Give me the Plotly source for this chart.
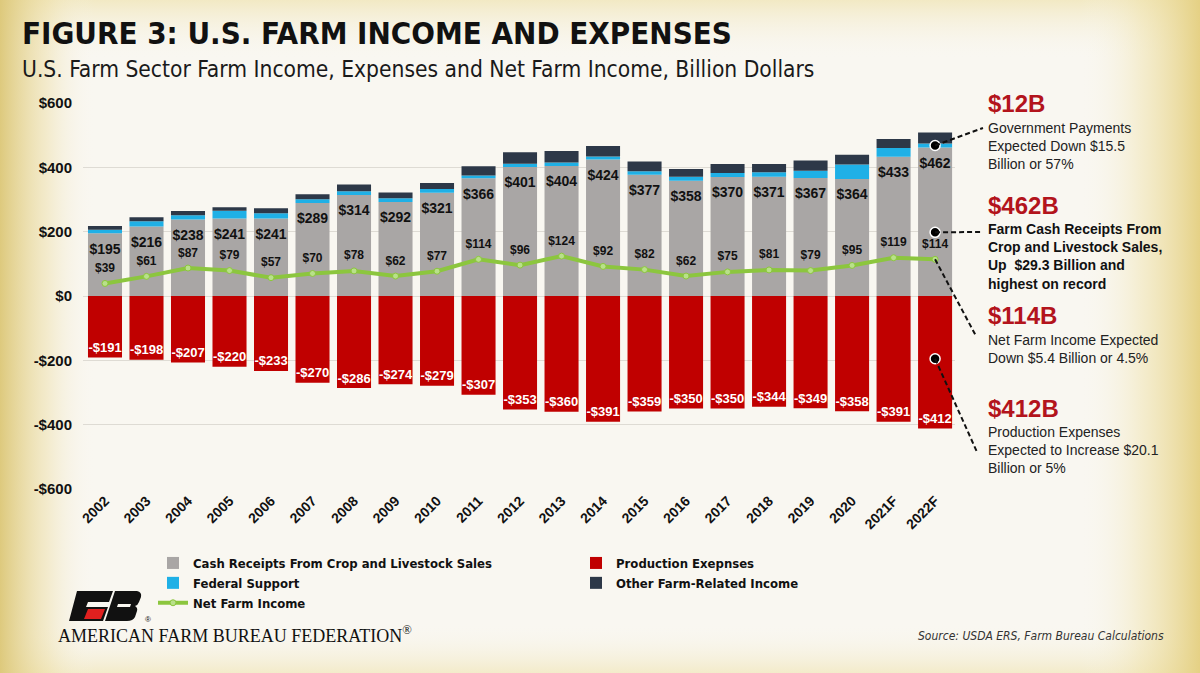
import base64
import plotly.graph_objects as go

# ---------------- data ----------------
years = ["2002", "2003", "2004", "2005", "2006", "2007", "2008", "2009", "2010", "2011",
         "2012", "2013", "2014", "2015", "2016", "2017", "2018", "2019", "2020", "2021F", "2022F"]
cash_receipts = [195, 216, 238, 241, 241, 289, 314, 292, 321, 366,
                 401, 404, 424, 377, 358, 370, 371, 367, 364, 433, 462]
federal_support = [11, 16, 13, 24, 16, 12, 12, 12, 12, 9,
                   10, 11, 10, 11, 13, 12, 14, 22, 45, 27, 12]
other_income = [12, 13, 13, 11, 16, 15, 21, 18, 18, 28,
                36, 36, 32, 30, 24, 28, 25, 32, 30, 28, 34]
production_expenses = [-191, -198, -207, -220, -233, -270, -286, -274, -279, -307,
                       -353, -360, -391, -359, -350, -350, -344, -349, -358, -391, -412]
net_farm_income = [39, 61, 87, 79, 57, 70, 78, 62, 77, 114,
                   96, 124, 92, 82, 62, 75, 81, 79, 95, 119, 114]

y_tick_vals = [600, 400, 200, 0, -200, -400, -600]
y_tick_text = ["$600", "$400", "$200", "$0", "-$200", "-$400", "-$600"]

callout_year = "2022F"
callout_values = [468, 198, -195]  # government payments, cash receipts, expenses markers

# ---------------- styling ----------------
W, H = 1200, 673
L, R, T, B = 83, 955, 103, 489
X_RANGE = [-0.53, 20.48]
Y_RANGE = [-600, 600]

GRAY = "#a9a6a5"
RED = "#c00000"
BLUE = "#1fb0e6"
NAVY = "#2d3848"
GREEN = "#8cc63e"
HEAD_RED = "#b3141c"
NARROW = "Liberation Sans Narrow, Arial Narrow, DejaVu Sans Condensed, Roboto Condensed, sans-serif"
ARIAL = "Liberation Sans, Arial, sans-serif"


def px(x):
    return (x - L) / (R - L)


def py(y):
    return (B - y) / (B - T)


def data_x_paper(cat):
    i = years.index(cat)
    return (i - X_RANGE[0]) / (X_RANGE[1] - X_RANGE[0])


def data_y_paper(v):
    return (v - Y_RANGE[0]) / (Y_RANGE[1] - Y_RANGE[0])


fig = go.Figure()

fig.add_trace(go.Bar(x=years, y=cash_receipts, name="Cash Receipts From Crop and Livestock Sales",
                     marker=dict(color=GRAY, line=dict(width=0)), hoverinfo="skip"))
fig.add_trace(go.Bar(x=years, y=production_expenses, name="Production Exepnses",
                     marker=dict(color=RED, line=dict(width=0)), hoverinfo="skip"))
fig.add_trace(go.Bar(x=years, y=federal_support, name="Federal Support",
                     marker=dict(color=BLUE, line=dict(width=0)), hoverinfo="skip"))
fig.add_trace(go.Bar(x=years, y=other_income, name="Other Farm-Related Income",
                     marker=dict(color=NAVY, line=dict(width=0)), hoverinfo="skip"))
fig.add_trace(go.Scatter(x=years, y=net_farm_income, name="Net Farm Income", mode="lines+markers",
                         line=dict(color=GREEN, width=4),
                         marker=dict(color="#b9e08a", size=6, line=dict(color=GREEN, width=1)),
                         hoverinfo="skip"))

# labels for cash receipts (below the top of the gray segment)
fig.add_trace(go.Scatter(x=years, y=cash_receipts, mode="markers+text",
                         text=[f"${v}" for v in cash_receipts], textposition="bottom center",
                         marker=dict(size=14, opacity=0),
                         textfont=dict(family=ARIAL, size=14, color="#111111", weight="bold"),
                         showlegend=False, hoverinfo="skip", cliponaxis=False))
# labels for net farm income
fig.add_trace(go.Scatter(x=years, y=net_farm_income, mode="markers+text",
                         text=[f"${v}" for v in net_farm_income], textposition="top center",
                         marker=dict(size=12, opacity=0),
                         textfont=dict(family=ARIAL, size=12, color="#111111", weight="bold"),
                         showlegend=False, hoverinfo="skip", cliponaxis=False))
# labels for production expenses
fig.add_trace(go.Scatter(x=years, y=production_expenses, mode="markers+text",
                         text=[f"-${abs(v)}" for v in production_expenses], textposition="top center",
                         marker=dict(size=2, opacity=0),
                         textfont=dict(family=ARIAL, size=13, color="#ffffff", weight="bold"),
                         showlegend=False, hoverinfo="skip", cliponaxis=False))
# callout dots
fig.add_trace(go.Scatter(x=[callout_year] * len(callout_values), y=callout_values, mode="markers",
                         marker=dict(color="#000000", size=10, line=dict(color="#ffffff", width=1.5)),
                         showlegend=False, hoverinfo="skip", cliponaxis=False))

# ---------------- background & logo (SVG image) ----------------
svg = f"""<svg xmlns='http://www.w3.org/2000/svg' width='{W}' height='{H}' viewBox='0 0 {W} {H}'>
<defs>
<linearGradient id='gl' x1='0' y1='0' x2='1' y2='0'>
<stop offset='0' stop-color='#dcc777' stop-opacity='0.95'/>
<stop offset='0.5' stop-color='#ecdca0' stop-opacity='0.45'/>
<stop offset='1' stop-color='#f9f7f1' stop-opacity='0'/>
</linearGradient>
<linearGradient id='gr' x1='1' y1='0' x2='0' y2='0'>
<stop offset='0' stop-color='#e4cf80' stop-opacity='0.95'/>
<stop offset='0.5' stop-color='#efe1a8' stop-opacity='0.45'/>
<stop offset='1' stop-color='#f9f7f1' stop-opacity='0'/>
</linearGradient>
<linearGradient id='gt' x1='0' y1='0' x2='0' y2='1'>
<stop offset='0' stop-color='#efe3b0' stop-opacity='0.7'/>
<stop offset='1' stop-color='#f9f7f1' stop-opacity='0'/>
</linearGradient>
<linearGradient id='gb' x1='0' y1='1' x2='0' y2='0'>
<stop offset='0' stop-color='#efe3b0' stop-opacity='0.6'/>
<stop offset='1' stop-color='#f9f7f1' stop-opacity='0'/>
</linearGradient>
</defs>
<rect width='{W}' height='{H}' fill='#f9f7f1'/>
<rect x='0' y='0' width='{W}' height='60' fill='url(#gt)'/>
<rect x='0' y='{H-50}' width='{W}' height='50' fill='url(#gb)'/>
<rect x='0' y='0' width='95' height='{H}' fill='url(#gl)'/>
<rect x='{W-120}' y='0' width='120' height='{H}' fill='url(#gr)'/>
<path d='M77,591 L113,591 L109,602 L88,602 L86,607 L108,607 L103,621 L69,621 Z' fill='#111111'/>
<path d='M88,609 L105,609 L101,619 L84,619 Z' fill='#e0201f'/>
<path d='M115,591 L137,591 Q142,592 141,597 L139,602 Q138,605 135,606 Q138,608 137,611 L135,617 Q133,621 127,621 L105,621 Z' fill='#111111'/>
<path d='M118,604 L131,604 L130,607 L117,607 Z' fill='#f9f7f1'/>
</svg>"""
svg_uri = "data:image/svg+xml;base64," + base64.b64encode(svg.encode()).decode()

fig.add_layout_image(dict(source=svg_uri, xref="paper", yref="paper",
                          x=px(0), y=py(0), sizex=px(W) - px(0), sizey=py(0) - py(H),
                          xanchor="left", yanchor="top", sizing="stretch", layer="below"))

# ---------------- annotations ----------------
ann = []


def add_text(x, y, text, size, color="#222222", family=ARIAL, weight="normal", style="normal",
             xanchor="left", yanchor="middle", align="left"):
    ann.append(dict(x=px(x), y=py(y), xref="paper", yref="paper", text=text, showarrow=False,
                    xanchor=xanchor, yanchor=yanchor, align=align,
                    font=dict(family=family, size=size, color=color, weight=weight, style=style)))


add_text(20, 33, "FIGURE 3: U.S. FARM INCOME AND EXPENSES", 31, color="#111111", family=NARROW, weight="bold")
add_text(20, 69, "U.S. Farm Sector Farm Income, Expenses and Net Farm Income, Billion Dollars", 22.6,
         color="#1a1a1a", family=NARROW)

add_text(986, 103, "$12B", 24, color=HEAD_RED, weight="bold")
add_text(986, 146, "Government Payments<br>Expected Down $15.5<br>Billion or 57%", 14)
add_text(986, 205, "$462B", 24, color=HEAD_RED, weight="bold")
add_text(986, 256, "Farm Cash Receipts From<br>Crop and Livestock Sales,<br>Up  $29.3 Billion and<br>highest on record",
         14, color="#111111", weight="bold")
add_text(986, 315, "$114B", 24, color=HEAD_RED, weight="bold")
add_text(986, 349, "Net Farm Income Expected<br>Down $5.4 Billion or 4.5%", 14)
add_text(986, 408, "$412B", 24, color=HEAD_RED, weight="bold")
add_text(986, 450, "Production Expenses<br>Expected to Increase $20.1<br>Billion or 5%", 14)

add_text(56, 634, "AMERICAN FARM BUREAU FEDERATION<sup>®</sup>", 18, color="#111111",
         family="Liberation Serif, DejaVu Serif, serif")
add_text(143, 619, "®", 8, color="#111111")
add_text(1166, 636, "Source: USDA ERS, Farm Bureau Calculations", 12, color="#333333",
         family=NARROW, style="italic", xanchor="right")

# ---------------- callout leader lines ----------------
shapes = []
xc = data_x_paper(callout_year)
leader_ends = [(callout_values[0], 983, 128), (callout_values[1], 982, 232),
               (net_farm_income[-1], 976, 336), (callout_values[2], 977, 452)]
for v, ex, ey in leader_ends:
    shapes.append(dict(type="line", xref="paper", yref="paper",
                       x0=xc, y0=data_y_paper(v), x1=px(ex), y1=py(ey),
                       line=dict(color="#111111", width=2, dash="5px,3px"), layer="above"))

fig.update_layout(
    width=W, height=H,
    margin=dict(l=L, r=W - R, t=T, b=H - B, pad=0),
    paper_bgcolor="#f9f7f1", plot_bgcolor="rgba(0,0,0,0)",
    barmode="relative", bargap=0.18,
    showlegend=True,
    legend=dict(orientation="h", x=px(153), y=py(548), xanchor="left", yanchor="top",
                entrywidth=378, entrywidthmode="pixels", traceorder="normal",
                font=dict(family=NARROW, size=13, color="#111111", weight="bold"),
                bgcolor="rgba(0,0,0,0)", itemwidth=30),
    xaxis=dict(type="category", range=X_RANGE, showgrid=False, zeroline=False, showline=False,
               tickangle=-45, ticks="", tickfont=dict(family=ARIAL, size=14, color="#111111", weight="bold")),
    yaxis=dict(range=Y_RANGE, tickvals=y_tick_vals, ticktext=y_tick_text, showgrid=True,
               gridcolor="#dedbd4", gridwidth=1, zeroline=False, showline=False, ticks="",
               ticklabelstandoff=10,
               tickfont=dict(family=ARIAL, size=15, color="#111111", weight="bold")),
    annotations=ann, shapes=shapes,
    font=dict(family=ARIAL),
)

fig.write_html("out.html")
